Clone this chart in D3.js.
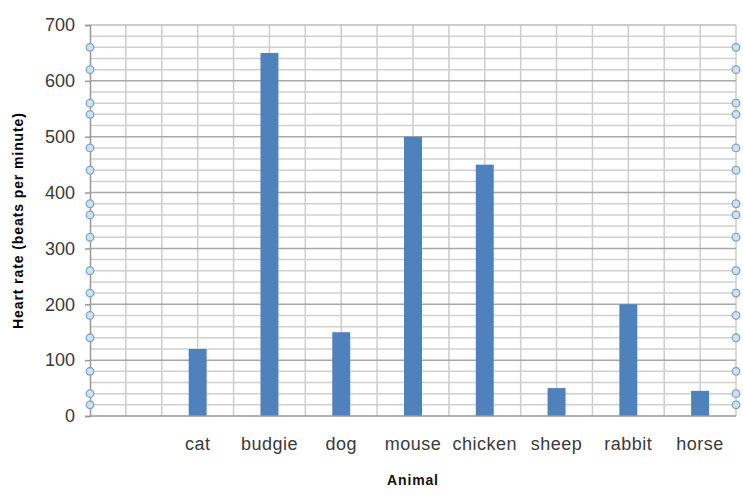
<!DOCTYPE html>
<html>
<head>
<meta charset="utf-8">
<script src="https://cdn.jsdelivr.net/npm/d3@7"></script>
<style>
  body { margin: 0; background: #fff; }
  text { font-family: "Liberation Sans", Arial, sans-serif; }
</style>
</head>
<body>
<div id="chart"></div>
<script>
// ── Data ──
const animals = ["", "cat", "budgie", "dog", "mouse", "chicken", "sheep", "rabbit", "horse"];
const heartRates = [null, 120, 650, 150, 500, 450, 50, 200, 45];
const markerValues = [660, 620, 560, 540, 480, 440, 380, 360, 320, 260, 220, 180, 140, 80, 40, 20];
const yTicks = [0, 100, 200, 300, 400, 500, 600, 700];

const W = 743, H = 499;
const M = { t: 25, r: 7, b: 83, l: 90 };
const w = W - M.l - M.r;
const h = H - M.t - M.b;

const svg = d3.select("#chart").append("svg")
  .attr("width", W).attr("height", H);

const g = svg.append("g").attr("transform", `translate(${M.l},${M.t})`);

const x = d3.scaleBand().domain(animals.map((d, i) => i)).range([0, w]);
const y = d3.scaleLinear().domain([0, 700]).range([h, 0]);

// ── Grid ──
const minor = d3.range(20, 700, 20).filter((v) => v % 100 !== 0);
g.selectAll(".hminor").data(minor).enter().append("line")
  .attr("x1", 0).attr("x2", w)
  .attr("y1", (d) => y(d)).attr("y2", (d) => y(d))
  .attr("stroke", "#d0d0d0").attr("stroke-width", 1.5);

const vlines = d3.range(1, animals.length * 2 + 1).map((k) => (k * x.bandwidth()) / 2);
g.selectAll(".vgrid").data(vlines).enter().append("line")
  .attr("x1", (d) => d).attr("x2", (d) => d)
  .attr("y1", 0).attr("y2", h)
  .attr("stroke", "#cdcdcd").attr("stroke-width", 1.5);

g.selectAll(".hmajor").data(yTicks.slice(1)).enter().append("line")
  .attr("x1", 0).attr("x2", w)
  .attr("y1", (d) => y(d)).attr("y2", (d) => y(d))
  .attr("stroke", (d) => (d === 700 ? "#bdbdbd" : "#a8a8a8")).attr("stroke-width", 1.5);

// ── Bars ──
const barW = x.bandwidth() * 0.25;
g.selectAll(".bar").data(heartRates.map((v, i) => ({ v, i })).filter((d) => d.v != null))
  .enter().append("rect")
  .attr("x", (d) => x(d.i) + x.bandwidth() / 2 - barW / 2)
  .attr("y", (d) => y(d.v))
  .attr("width", barW)
  .attr("height", (d) => h - y(d.v))
  .attr("fill", "#4f81bd");

// ── Axes ──
const yAxis = g.append("g").call(d3.axisLeft(y).tickValues(yTicks).tickSize(5).tickPadding(10));
yAxis.select(".domain").attr("stroke", "#999").attr("stroke-width", 1.5);
yAxis.selectAll(".tick line").attr("stroke", "#999").attr("stroke-width", 1.5);
yAxis.selectAll("text").attr("fill", "#3a3a3a").style("font-size", "18px")
  .style("font-family", "'Liberation Sans', Arial, sans-serif");

g.append("line")
  .attr("x1", 0).attr("x2", w).attr("y1", h).attr("y2", h)
  .attr("stroke", "#999").attr("stroke-width", 1.5);

g.selectAll(".xlab").data(animals).enter().append("text")
  .attr("x", (d, i) => x(i) + x.bandwidth() / 2)
  .attr("y", h + 34)
  .attr("text-anchor", "middle")
  .attr("fill", "#3a3a3a")
  .style("font-size", "18px")
  .style("letter-spacing", "0.5px")
  .text((d) => d);

// ── Markers on both edges ──
[0, w].forEach((cx) => {
  g.selectAll(null).data(markerValues).enter().append("circle")
    .attr("cx", cx).attr("cy", (d) => y(d)).attr("r", 3.8)
    .attr("fill", "#cfe2ee").attr("stroke", "#7ea6c8").attr("stroke-width", 1.3);
});

// ── Titles ──
svg.append("text")
  .attr("transform", `translate(23,221) rotate(-90)`)
  .attr("text-anchor", "middle")
  .attr("textLength", 216)
  .style("font-size", "14px").style("font-weight", "bold")
  .attr("fill", "#000")
  .text("Heart rate (beats per minute)");

svg.append("text")
  .attr("x", 412.5).attr("y", 485)
  .attr("text-anchor", "middle")
  .attr("textLength", 51)
  .style("font-size", "14px").style("font-weight", "bold")
  .attr("fill", "#111")
  .text("Animal");
</script>
</body>
</html>
